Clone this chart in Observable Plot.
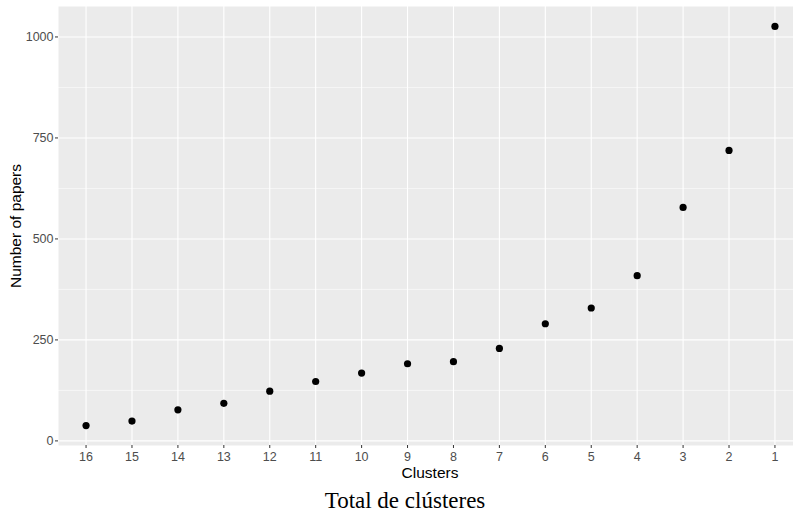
<!DOCTYPE html>
<html>
<head>
<meta charset="utf-8">
<script src="https://cdn.jsdelivr.net/npm/d3@7"></script>
<script src="https://cdn.jsdelivr.net/npm/@observablehq/plot@0.6"></script>
<style>
  html, body { margin: 0; padding: 0; background: white; }
  #chart svg { display: block; }
  #caption { width: 793px; text-align: center; padding-left: 17px; box-sizing: border-box;
    font-family: "Liberation Serif", "Times New Roman", serif; font-size: 23px; line-height: 30px; color: #000; }
</style>
</head>
<body>
<div id="chart"></div>
<div id="caption">Total de clústeres</div>
<script>
const clusters = ["16","15","14","13","12","11","10","9","8","7","6","5","4","3","2","1"];
const papers = [38, 49, 77, 93, 123, 147, 168, 191, 196, 229, 290, 329, 409, 578, 719, 1026];
const majorTicks = [0, 250, 500, 750, 1000];
const minorTicks = [125, 375, 625, 875];
const xTitle = "Clusters";
const yTitle = "Number of papers";

const data = clusters.map((c, i) => ({cluster: c, papers: papers[i]}));

const chart = Plot.plot({
  width: 793,
  height: 486,
  marginLeft: 58,
  marginRight: 0,
  marginTop: 6,
  marginBottom: 41,
  style: {fontFamily: "'Liberation Sans', Arial, sans-serif", fontSize: "12.5px", background: "white"},
  x: {type: "point", domain: clusters, padding: 0.6, range: [58, 802], round: false},
  y: {domain: [-11.4, 1075.4]},
  marks: [
    Plot.frame({fill: "#EBEBEB", stroke: null}),
    Plot.ruleY(minorTicks, {stroke: "white", strokeWidth: 0.55}),
    Plot.ruleY(majorTicks, {stroke: "white", strokeWidth: 1.1}),
    Plot.ruleX(clusters, {stroke: "white", strokeWidth: 1.1}),
    Plot.axisY(majorTicks, {tickSize: 3, tickPadding: 2, stroke: "#333", fill: "#4D4D4D", fontSize: 12.5, tickFormat: d => String(d), label: null}),
    Plot.axisX(clusters, {tickSize: 3, tickPadding: 4, stroke: "#333", fill: "#4D4D4D", fontSize: 12.5, label: null}),
    Plot.dot(data, {x: "cluster", y: "papers", r: 3.6, fill: "black", stroke: null}),
    Plot.text([yTitle], {text: d => d, frameAnchor: "left", textAnchor: "middle", lineAnchor: "middle", dx: -42, rotate: -90, fontSize: 15.5, fill: "black"}),
    Plot.text([xTitle], {text: d => d, frameAnchor: "bottom", textAnchor: "middle", lineAnchor: "middle", dx: 4, dy: 28, fontSize: 15.5, fill: "black"})
  ]
});
document.getElementById("chart").appendChild(chart);
</script>
</body>
</html>
